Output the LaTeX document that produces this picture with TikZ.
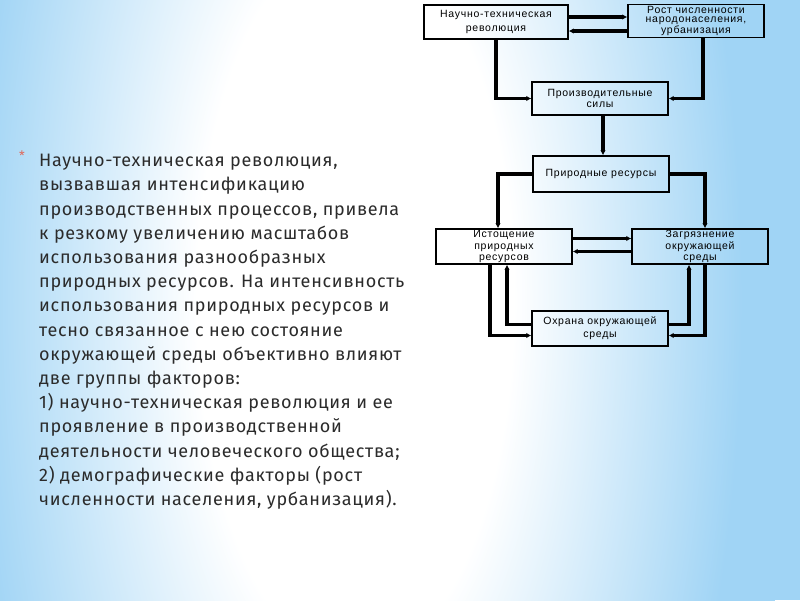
\documentclass[tikz,border=0pt]{standalone}
\usepackage{fontspec}
\setmainfont{Fira Sans}[LetterSpace=4]
\newfontfamily\schemefont{Liberation Sans}[LetterSpace=7]
\usepackage{tikz}
\usetikzlibrary{arrows.meta, positioning, calc, shadings}
\definecolor{bgblue}{HTML}{A0D4F5}
\definecolor{bulletred}{HTML}{E0695A}
\definecolor{textgray}{HTML}{2B2B2B}
\pgfdeclareradialshading{slidebg}{\pgfpoint{0bp}{0bp}}{color(0bp)=(white); color(9bp)=(white); color(22bp)=(bgblue); color(50bp)=(bgblue)}

\begin{document}
\begin{tikzpicture}[
    x=1pt, y=-1pt,
    box/.style={rectangle, draw=black, line width=1.4pt, minimum width=#1, minimum height=34pt, inner sep=1pt, align=center, font=\schemefont\fontsize{10.5}{11.5}\selectfont},
    box/.default=136pt,
    link/.style={-{Latex[length=5pt,width=5.5pt]}, line width=3.7pt, color=black},
    maintext/.style={align=left, inner sep=0pt, text=textgray, font=\fontsize{18}{24.2}\selectfont},
    bullet/.style={inner sep=0pt, text=bulletred, font=\fontsize{13}{13}\selectfont}
]
\useasboundingbox (0,0) rectangle (800,600);

% slide background
\fill[bgblue] (0,0) rectangle (800,600);
\begin{scope}
\clip (0,0) rectangle (800,600);
\shade[shading=slidebg] (355,300) ellipse (440pt and 1000pt);
\end{scope}

% text on the left
\node[bullet] (star) at (22,156) {*};
\node[maintext, anchor=north west] (body) at (39,154) {Научно-техническая революция,\\
вызвавшая интенсификацию\\
производственных процессов, привела\\
к резкому увеличению масштабов\\
использования разнообразных\\
природных ресурсов. На интенсивность\\
использования природных ресурсов и\\
тесно связанное с нею состояние\\
окружающей среды объективно влияют\\
две группы факторов:\\
1) научно-техническая революция и ее\\
проявление в производственной\\
деятельности человеческого общества;\\
2) демографические факторы (рост\\
численности населения, урбанизация).};

% scheme on the right
\node[box=144pt, font=\schemefont\fontsize{10.5}{14}\selectfont] (ntr) at (496,22) {Научно-техническая\\революция};
\node[box, minimum height=33pt, font=\schemefont\fontsize{10.5}{9.8}\selectfont] (rost) at (696,21) {Рост численности\\народонаселения,\\урбанизация};
\node[box, minimum height=33pt] (prod) at (600,98.5) {Производительные\\силы};
\node[box, minimum height=36pt] (res) at (601,174) {Природные ресурсы};
\node[box, minimum height=35pt] (depl) at (504,246.5) {Истощение\\природных\\ресурсов};
\node[box, minimum height=35pt] (poll) at (700,246.5) {Загрязнение\\окружающей\\среды};
\node[box, minimum height=35pt, font=\schemefont\fontsize{10.5}{13}\selectfont] (prot) at (600,328.5) {Охрана окружающей\\среды};

\draw[link] ([yshift=5pt]ntr.east) -- ([yshift=4pt]rost.west);
\draw[link] ([yshift=-10pt]rost.west) -- ([yshift=-9pt]ntr.east);
\draw[link] (ntr.south) |- (prod.west);
\draw[link] ([xshift=7pt]rost.south) |- (prod.east);
\draw[link] ([xshift=3pt]prod.south) -- ([xshift=2pt]res.north);
\draw[link] (res.west) -| ([xshift=-6pt]depl.north);
\draw[link] (res.east) -| ([xshift=5pt]poll.north);
\draw[link] ([yshift=8pt]depl.east) -- ([yshift=8pt]poll.west);
\draw[link] ([yshift=-5pt]poll.west) -- ([yshift=-5pt]depl.east);
\draw[link] ([xshift=-14pt]depl.south) |- ([yshift=-7pt]prot.west);
\draw[link] ([yshift=4pt]prot.west) -| ([xshift=3pt]depl.south);
\draw[link] ([yshift=4pt]prot.east) -| ([xshift=-11pt]poll.south);
\draw[link] ([xshift=5pt]poll.south) |- ([yshift=-7pt]prot.east);

\end{tikzpicture}
\end{document}
